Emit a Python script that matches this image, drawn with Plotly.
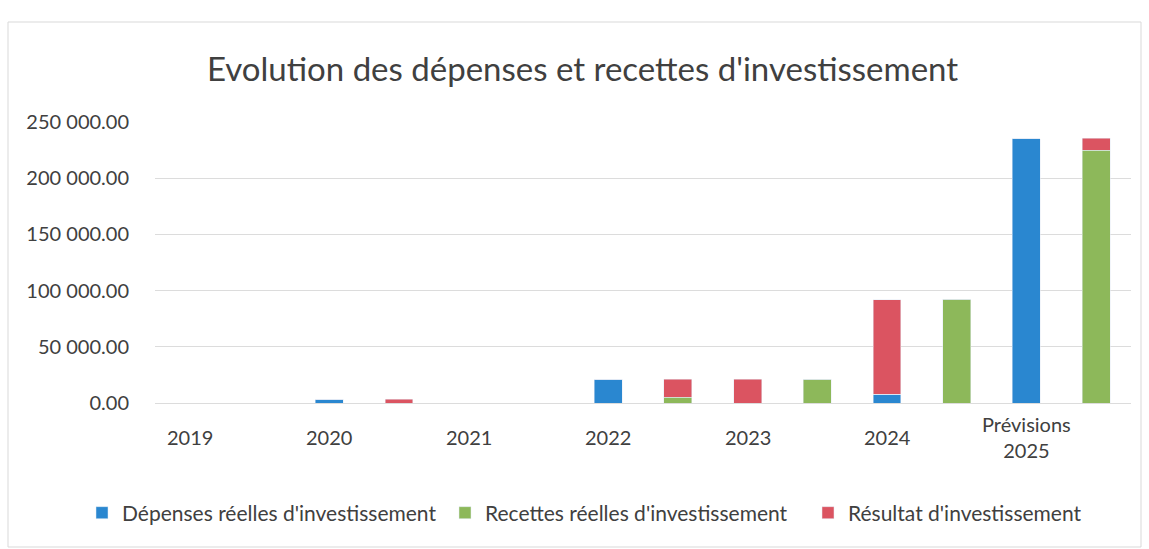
import plotly.graph_objects as go

slots = list(range(14))
tick_positions = [0, 2, 4, 6, 8, 10, 12]
tick_labels = ["2019", "2020", "2021", "2022", "2023", "2024", "Prévisions<br>2025"]

depenses = [0, 0, 3500, 0, 0, 0, 21000, 0, 0, 0, 8000, 0, 235000, 0]
recettes = [0, 0, 0, 0, 0, 0, 0, 5000, 0, 21000, 0, 92500, 0, 225000]
resultat = [0, 0, 0, 3500, 0, 0, 0, 16000, 21000, 0, 84000, 0, 0, 10500]

font = "Lato, 'Open Sans', sans-serif"
txt = "#404040"

T, B, L, R = 122, 403, 155, 1131
H = B - T
W = R - L


def py(p):
    return (B - p) / H


def px(p):
    return (p - L) / W


fig = go.Figure()
fig.add_bar(x=slots, y=depenses, name="Dépenses réelles d'investissement", marker_color="#2A87D0")
fig.add_bar(x=slots, y=recettes, name="Recettes réelles d'investissement", marker_color="#8DB85A")
fig.add_bar(x=slots, y=resultat, name="Résultat d'investissement", marker_color="#DB5461")

annotations = [dict(x=p, y=py(437), xref="x", yref="paper", text=t, showarrow=False,
                    xanchor="center", yanchor="middle", align="center",
                    font=dict(size=20, color=txt, family=font))
               for p, t in zip(tick_positions, tick_labels)]

fig.update_layout(
    barmode="stack",
    bargap=0.6,
    width=1149, height=549,
    margin=dict(l=L, r=1149 - R, t=T, b=549 - B, autoexpand=False),
    paper_bgcolor="white", plot_bgcolor="white",
    separators=". ",
    font=dict(family=font, color=txt, size=20),
    title=dict(text="Evolution des dépenses et recettes d'investissement",
               x=0.507, xanchor="center", y=0.873, yanchor="middle",
               font=dict(size=33, color=txt, family=font)),
    legend=dict(orientation="h", x=px(82), xanchor="left",
                y=py(513), yanchor="middle", bgcolor="rgba(0,0,0,0)",
                font=dict(size=21, color=txt), traceorder="normal",
                itemwidth=30, tracegroupgap=0, entrywidth=318, entrywidthmode="pixels"),
    xaxis=dict(range=[-0.5, 13.5], tickvals=[], showticklabels=False,
               showgrid=False, zeroline=False, showline=False, ticks=""),
    yaxis=dict(range=[0, 250000], dtick=50000, tickformat=",.2f",
               showgrid=True, gridcolor="#DCDCDC", gridwidth=1, zeroline=True,
               zerolinecolor="#DCDCDC", zerolinewidth=1, showline=False, ticks="",
               ticklabelstandoff=25, tickfont=dict(size=20, color=txt)),
    annotations=annotations,
    shapes=[dict(type="rect", xref="paper", yref="paper",
                 x0=px(8), x1=px(1141), y0=py(547), y1=py(22),
                 line=dict(color="#D9D9D9", width=1), fillcolor="rgba(0,0,0,0)")],
)

fig.write_html("out.html", config={"displayModeBar": False},
               post_script="document.body.style.margin='0px';")
